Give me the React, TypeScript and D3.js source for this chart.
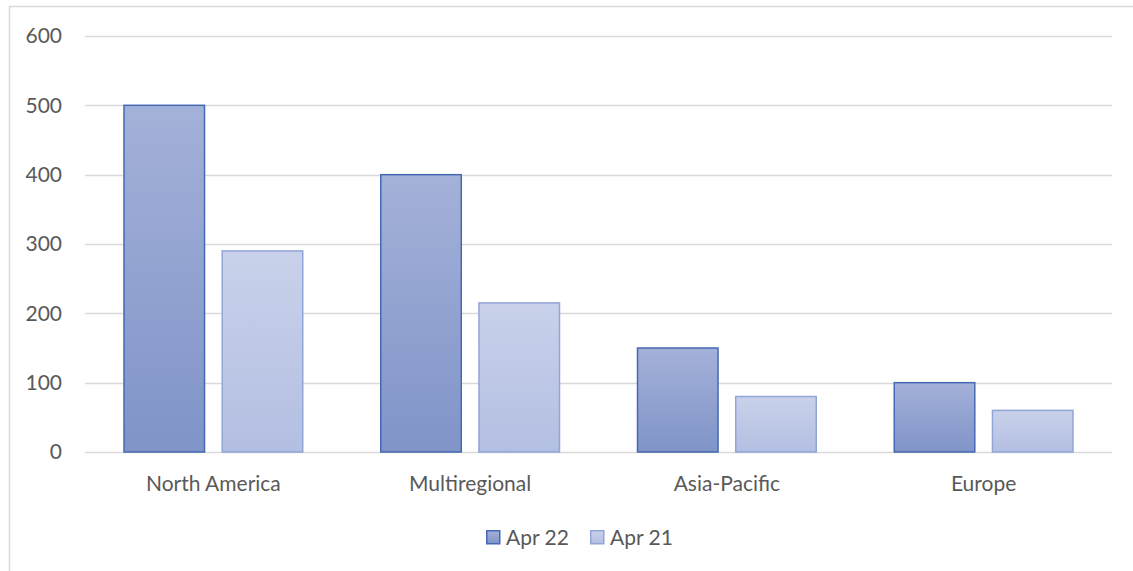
import { useRef, useEffect } from 'react';
import * as d3 from 'd3';

const categories = ['North America', 'Multiregional', 'Asia-Pacific', 'Europe'];
const seriesNames = ['Apr 22', 'Apr 21'];
const apr22 = [500, 400, 150, 100];
const apr21 = [290, 215, 80, 60];
const yTicks = [0, 100, 200, 300, 400, 500, 600];

const seriesStyle = [
  { top: '#a4b1d9', bottom: '#8094c8', stroke: '#4569b2' },
  { top: '#c9d1ea', bottom: '#b3bfe2', stroke: '#91a5d9' },
];

export default function App() {
  const svgRef = useRef<SVGSVGElement>(null);
  const width = 1133;
  const height = 571;

  useEffect(() => {
    if (!svgRef.current) return;
    const svg = d3.select(svgRef.current);
    svg.selectAll('*').remove();

    const font = 'Lato, "Open Sans", sans-serif';
    const fontSize = 21;
    const margin = { top: 36, right: 21, bottom: 119, left: 85 };
    const innerWidth = width - margin.left - margin.right;
    const innerHeight = height - margin.top - margin.bottom;

    // gradients
    const defs = svg.append('defs');
    seriesStyle.forEach((s, i) => {
      const grad = defs.append('linearGradient')
        .attr('id', `grad${i}`)
        .attr('x1', 0).attr('y1', 0).attr('x2', 0).attr('y2', 1);
      grad.append('stop').attr('offset', '0%').attr('stop-color', s.top);
      grad.append('stop').attr('offset', '100%').attr('stop-color', s.bottom);
    });

    // chart frame
    svg.append('rect')
      .attr('x', 9.5)
      .attr('y', 6.5)
      .attr('width', width)
      .attr('height', height)
      .attr('fill', 'none')
      .attr('stroke', '#d9d9d9')
      .attr('stroke-width', 1.5);

    const g = svg.append('g')
      .attr('transform', `translate(${margin.left},${margin.top})`);

    const x0 = d3.scaleBand()
      .domain(categories)
      .range([0, innerWidth])
      .paddingInner(0)
      .paddingOuter(0);

    const x1 = d3.scaleBand()
      .domain(seriesNames)
      .range([39, x0.bandwidth() - 39])
      .paddingInner(0.18);

    const y = d3.scaleLinear()
      .domain([0, 600])
      .range([innerHeight, 0]);

    // gridlines
    g.selectAll('.grid')
      .data(yTicks)
      .enter()
      .append('line')
      .attr('x1', 0)
      .attr('x2', innerWidth)
      .attr('y1', d => Math.round(y(d)) + 0.5)
      .attr('y2', d => Math.round(y(d)) + 0.5)
      .attr('stroke', '#d9d9d9')
      .attr('stroke-width', 1.3);

    // y labels
    g.selectAll('.ylab')
      .data(yTicks)
      .enter()
      .append('text')
      .attr('x', -23)
      .attr('y', d => y(d))
      .attr('dy', '0.35em')
      .attr('text-anchor', 'end')
      .attr('font-family', font)
      .attr('font-size', fontSize)
      .attr('fill', '#595959')
      .text(d => d);

    // bars
    const seriesData = [apr22, apr21];
    seriesData.forEach((values, si) => {
      g.selectAll(`.bar${si}`)
        .data(values)
        .enter()
        .append('rect')
        .attr('x', (_, i) => (x0(categories[i]) ?? 0) + (x1(seriesNames[si]) ?? 0))
        .attr('y', d => y(d))
        .attr('width', x1.bandwidth())
        .attr('height', d => innerHeight - y(d))
        .attr('fill', `url(#grad${si})`)
        .attr('stroke', seriesStyle[si].stroke)
        .attr('stroke-width', 1.5);
    });

    // category labels
    g.selectAll('.xlab')
      .data(categories)
      .enter()
      .append('text')
      .attr('x', d => (x0(d) ?? 0) + x0.bandwidth() / 2)
      .attr('y', innerHeight + 32)
      .attr('dy', '0.35em')
      .attr('text-anchor', 'middle')
      .attr('font-family', font)
      .attr('font-size', fontSize)
      .attr('fill', '#595959')
      .text(d => d);

    // legend
    const legend = svg.append('g').attr('transform', 'translate(486, 530)');
    const legendX = [0, 104];
    seriesNames.forEach((name, i) => {
      legend.append('rect')
        .attr('x', legendX[i] + 0.75)
        .attr('y', 0.75)
        .attr('width', 13)
        .attr('height', 13)
        .attr('fill', `url(#grad${i})`)
        .attr('stroke', seriesStyle[i].stroke)
        .attr('stroke-width', 1.5);
      legend.append('text')
        .attr('x', legendX[i] + 20)
        .attr('y', 7.5)
        .attr('dy', '0.35em')
        .attr('font-family', font)
        .attr('font-size', fontSize)
        .attr('fill', '#595959')
        .text(name);
    });
  }, []);

  return (
    <svg
      ref={svgRef}
      width={width}
      height={height}
      style={{ position: 'absolute', left: 0, top: 0, background: '#fff' }}
    />
  );
}
